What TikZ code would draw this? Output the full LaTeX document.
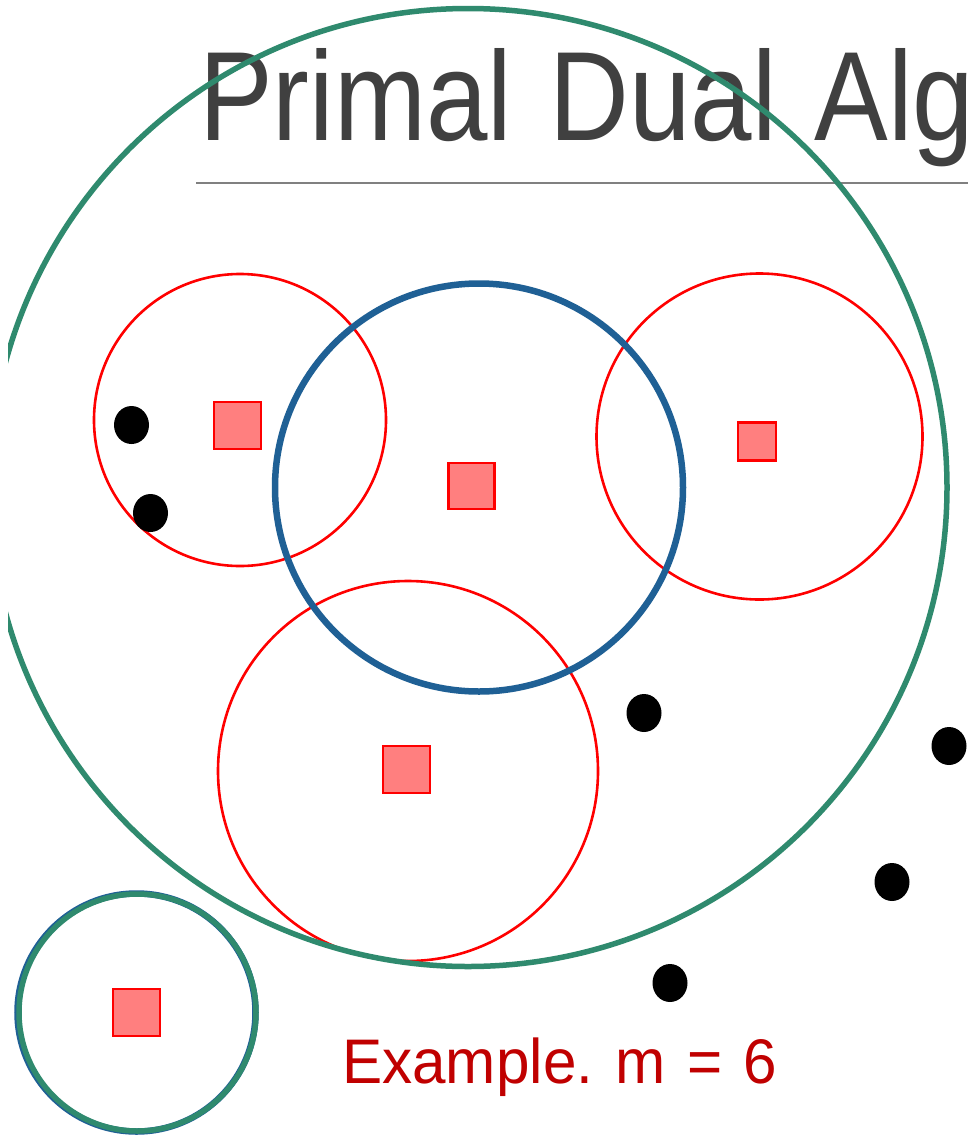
\documentclass[tikz,border=0pt]{standalone}
\usepackage{fontspec}
\usepackage{graphicx}
\setmainfont{Liberation Sans}
\definecolor{titlegray}{HTML}{404040}
\definecolor{rulegray}{HTML}{808080}
\definecolor{setgreen}{HTML}{2F8A6E}
\definecolor{setblue}{HTML}{1F6095}
\definecolor{facred}{HTML}{FF0000}
\definecolor{facfill}{HTML}{FF7F7F}
\definecolor{notered}{HTML}{C00000}
\tikzset{
  ball/.style={circle, draw, inner sep=0pt},
  redball/.style={ball, draw=facred, line width=2.6pt},
  blueball/.style={ball, draw=setblue, line width=6.5pt},
  greenball/.style={ball, draw=setgreen, line width=5.5pt},
  facility/.style={rectangle, draw=facred, fill=facfill, line width=2.6pt, inner sep=0pt},
  client/.style={ellipse, fill=black, inner sep=0pt, minimum width=35pt, minimum height=38pt},
}
\usetikzlibrary{shapes.geometric}
\begin{document}
\begin{tikzpicture}[x=1pt, y=-1pt]
\useasboundingbox (0,0) rectangle (968,1138);
\fill[white] (0,0) rectangle (968,1138);
\clip (8,0) rectangle (968,1138);

% heading (runs off the right edge) and rule
\node[anchor=base west, inner sep=0pt, text=titlegray] (title) at (199,140)
  {\scalebox{0.87}[1]{\fontsize{127}{127}\selectfont Primal\hspace{8pt} Dual\hspace{8pt} Alg}};
\coordinate (ruleL) at (196,183);
\coordinate (ruleR) at (968,183);
\draw[rulegray, line width=1.5pt] (ruleL) -- (ruleR);

% red balls
\node[redball, minimum size=292pt] (rA) at (240,420) {};
\node[redball, minimum size=326pt] (rB) at (759.5,436.5) {};
\node[redball, minimum size=380pt] (rC) at (408,771) {};

% blue ball
\node[blueball, minimum size=408pt] (bA) at (479,487.5) {};

% green balls
\node[greenball, minimum size=958pt] (gA) at (468,487.5) {};
\node[blueball, minimum size=238pt] (bB) at (136.5,1012.5) {};
\node[greenball, minimum size=237pt] (gB) at (137.5,1012.5) {};

% facilities
\node[facility, minimum size=47pt] (f1) at (237.5,425.5) {};
\node[facility, minimum size=46pt] (f2) at (471.5,486) {};
\node[facility, minimum size=38pt] (f3) at (757,441.5) {};
\node[facility, minimum size=47pt] (f4) at (406.5,769.5) {};
\node[facility, minimum size=47pt] (f5) at (136.5,1012.5) {};

% clients
\node[client] (c1) at (131.5,425) {};
\node[client] (c2) at (150.5,513) {};
\node[client] (c3) at (644,713) {};
\node[client] (c4) at (949,746) {};
\node[client] (c5) at (892,882) {};
\node[client] (c6) at (670,983) {};

% caption
\node[anchor=base west, inner sep=0pt, text=notered] (caption) at (342,1083)
  {\scalebox{0.956}[1]{\fontsize{63}{63}\selectfont Example. m\hspace{5pt} =\hspace{5pt} 6}};
\end{tikzpicture}
\end{document}
